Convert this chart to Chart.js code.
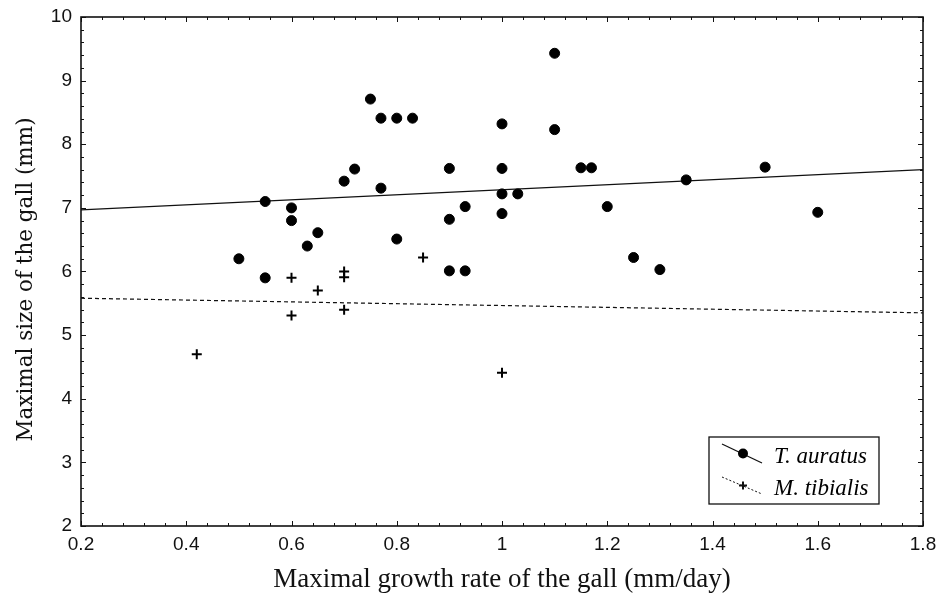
<!DOCTYPE html>
<html><head><meta charset="utf-8">
<script src="https://cdn.jsdelivr.net/npm/chart.js@4"></script>
<style>html,body{margin:0;padding:0;background:#fff}#wrap{width:939px;height:602px}</style>
</head><body><div id="wrap"><canvas id="c" width="939" height="602"></canvas></div>
<script>
// ---- data ----
const tAuratusX = [0.50,0.55,0.55,0.60,0.60,0.63,0.65,0.70,0.72,0.75,0.77,0.77,0.80,0.80,0.83,0.90,0.90,0.90,0.93,0.93,1.00,1.00,1.00,1.00,1.03,1.10,1.10,1.15,1.17,1.20,1.25,1.30,1.35,1.50,1.60];
const tAuratusY = [6.20,7.10,5.90,7.00,6.80,6.40,6.61,7.42,7.61,8.71,8.41,7.31,8.41,6.51,8.41,7.62,6.82,6.01,7.02,6.01,8.32,7.62,7.22,6.91,7.22,9.43,8.23,7.63,7.63,7.02,6.22,6.03,7.44,7.64,6.93];
const mTibialisX = [0.42,0.60,0.60,0.65,0.70,0.70,0.70,0.85,1.00];
const mTibialisY = [4.70,5.90,5.31,5.70,6.00,5.91,5.40,6.22,4.41];
const fitX = [0.2, 1.8];
const tAuratusFitY = [6.97, 7.60];
const mTibialisFitY = [5.58, 5.35];
const seriesNames = ['T. auratus', 'M. tibialis'];
const xTickValues = [0.2,0.4,0.6,0.8,1.0,1.2,1.4,1.6,1.8];
const yTickValues = [2,3,4,5,6,7,8,9,10];
const xTitle = 'Maximal growth rate of the gall (mm/day)';
const yTitle = 'Maximal size of the gall (mm)';

const pts = (xs, ys) => xs.map((x, i) => ({x, y: ys[i]}));

// frame and inward tick marks
const frameTicks = {
  id: 'frameTicks',
  afterDraw(chart) {
    const {ctx, chartArea: a, scales: {x, y}} = chart;
    ctx.save();
    ctx.strokeStyle = '#111';
    const tick = (px, py, dx, dy) => { ctx.beginPath(); ctx.moveTo(px, py); ctx.lineTo(px + dx, py + dy); ctx.stroke(); };
    ctx.lineWidth = 1;
    for (let v = x.min; v <= x.max + 1e-9; v += 0.04) {
      const px = Math.round(x.getPixelForValue(v)) + 0.5;
      const major = xTickValues.some(t => Math.abs(t - v) < 1e-6);
      const L = major ? 5 : 3;
      tick(px, a.bottom, 0, -L); tick(px, a.top, 0, L);
    }
    for (let v = y.min; v <= y.max + 1e-9; v += 0.2) {
      const py = Math.round(y.getPixelForValue(v)) + 0.5;
      const major = yTickValues.some(t => Math.abs(t - v) < 1e-6);
      const L = major ? 5 : 3;
      tick(a.left, py, L, 0); tick(a.right, py, -L, 0);
    }
    ctx.lineWidth = 1.6;
    ctx.strokeRect(a.left, a.top, a.right - a.left, a.bottom - a.top);
    // y axis title (rotated), slightly below the plot centre as in the reference
    ctx.fillStyle = '#111';
    ctx.font = '21.5px "DejaVu Serif", serif';
    ctx.textAlign = 'center';
    ctx.textBaseline = 'middle';
    ctx.translate(a.left - 55, (a.top + a.bottom) / 2 + 8);
    ctx.rotate(-Math.PI / 2);
    ctx.fillText(yTitle, 0, 0);
    ctx.restore();
  }
};

// legend box
const legendBox = {
  id: 'legendBox',
  afterDraw(chart) {
    const {ctx, chartArea: a} = chart;
    const bx = a.right - 214, by = a.bottom - 89, bw = 170, bh = 67;
    ctx.save();
    ctx.fillStyle = '#fff';
    ctx.fillRect(bx, by, bw, bh);
    ctx.strokeStyle = '#111';
    ctx.lineWidth = 1.3;
    ctx.strokeRect(bx, by, bw, bh);
    // T. auratus sample
    ctx.lineWidth = 1.3;
    ctx.beginPath(); ctx.moveTo(bx + 13, by + 7); ctx.lineTo(bx + 53, by + 26); ctx.stroke();
    ctx.fillStyle = '#000';
    ctx.beginPath(); ctx.arc(bx + 34, by + 16.5, 5, 0, Math.PI * 2); ctx.fill();
    // M. tibialis sample
    ctx.setLineDash([2, 2]);
    ctx.lineWidth = 1;
    ctx.beginPath(); ctx.moveTo(bx + 13, by + 40); ctx.lineTo(bx + 53, by + 57); ctx.stroke();
    ctx.setLineDash([]);
    ctx.lineWidth = 2;
    const cx = bx + 34, cy = by + 48.5;
    ctx.beginPath(); ctx.moveTo(cx - 4, cy); ctx.lineTo(cx + 4, cy); ctx.moveTo(cx, cy - 4); ctx.lineTo(cx, cy + 4); ctx.stroke();
    ctx.font = 'italic 23px "Liberation Serif", "Times New Roman", serif';
    ctx.textBaseline = 'alphabetic';
    ctx.textAlign = 'left';
    ctx.fillText(chart.data.datasets[0].label, bx + 65, by + 26);
    ctx.fillText(chart.data.datasets[1].label, bx + 65, by + 57.5);
    ctx.restore();
  }
};

const tickFont = {family: '"Liberation Sans", Arial, sans-serif', size: 19};

new Chart(document.getElementById('c'), {
  type: 'scatter',
  data: {
    datasets: [
      {label: seriesNames[0], data: pts(tAuratusX, tAuratusY), pointStyle: 'circle', pointRadius: 5, pointBackgroundColor: '#000', pointBorderColor: '#000', pointBorderWidth: 1, showLine: false, order: 1},
      {label: seriesNames[1], data: pts(mTibialisX, mTibialisY), pointStyle: 'cross', pointRadius: 5, pointBorderColor: '#000', pointBorderWidth: 2, showLine: false, order: 1},
      {type: 'line', label: seriesNames[0] + ' fit', data: pts(fitX, tAuratusFitY), borderColor: '#111', borderWidth: 1.3, pointRadius: 0, fill: false, order: 2},
      {type: 'line', label: seriesNames[1] + ' fit', data: pts(fitX, mTibialisFitY), borderColor: '#111', borderWidth: 1.2, borderDash: [4, 3], pointRadius: 0, fill: false, order: 2}
    ]
  },
  options: {
    responsive: false,
    animation: false,
    devicePixelRatio: 1,
    layout: {padding: {top: 17, right: 16, left: 0, bottom: 0}},
    plugins: {legend: {display: false}, tooltip: {enabled: false}},
    scales: {
      x: {
        type: 'linear', min: 0.2, max: 1.8,
        afterFit: s => { s.height = 76; s.paddingLeft = 0; s.paddingRight = 0; },
        afterBuildTicks: s => { s.ticks = xTickValues.map(v => ({value: v})); },
        grid: {display: false, drawTicks: false},
        border: {display: false},
        ticks: {color: '#111', font: tickFont, padding: 7, maxRotation: 0, autoSkip: false,
          callback: v => String(Number(v.toFixed(1)))},
        title: {display: true, text: xTitle, color: '#111',
          font: {family: '"Liberation Serif", "Times New Roman", serif', size: 27}, padding: {top: 0, bottom: 6}}
      },
      y: {
        type: 'linear', min: 2, max: 10,
        afterFit: s => { s.width = 81; s.paddingTop = 0; s.paddingBottom = 0; },
        afterBuildTicks: s => { s.ticks = yTickValues.map(v => ({value: v})); },
        grid: {display: false, drawTicks: false},
        border: {display: false},
        ticks: {color: '#111', font: tickFont, padding: 9, autoSkip: false,
          callback: v => String(v)},
        title: {display: false, text: yTitle}
      }
    }
  },
  plugins: [frameTicks, legendBox]
});
</script>
</body></html>
